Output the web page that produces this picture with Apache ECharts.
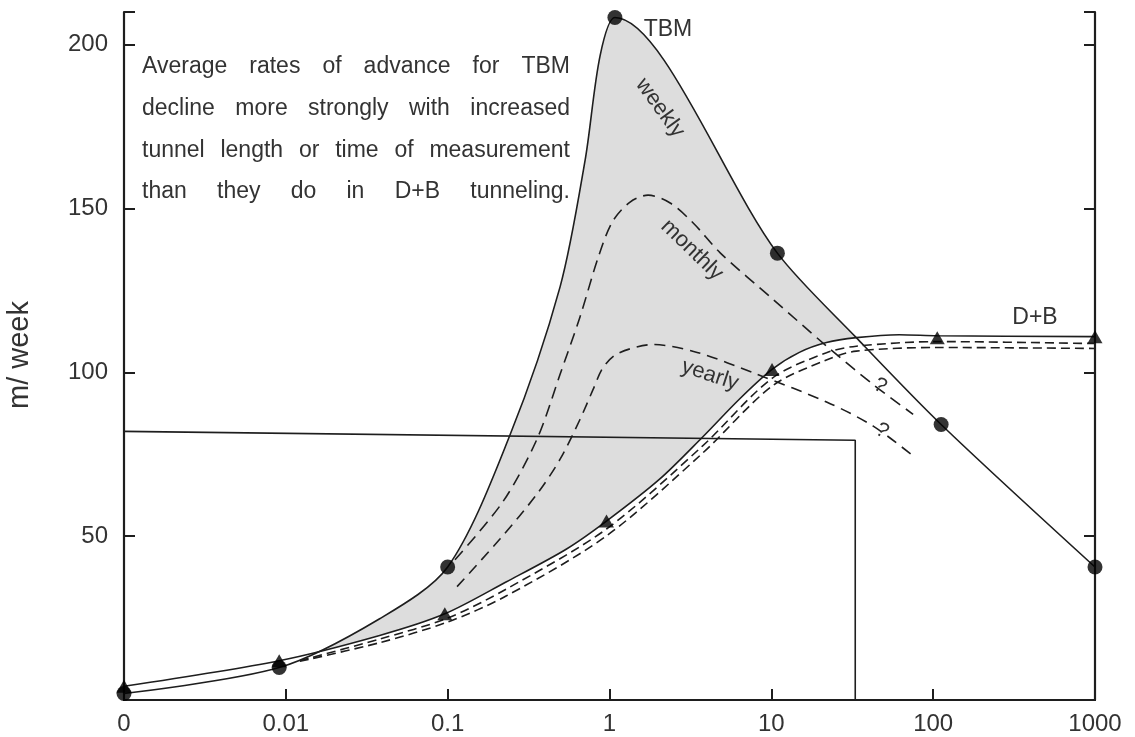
<!DOCTYPE html>
<html>
<head>
<meta charset="utf-8">
<script src="https://cdn.jsdelivr.net/npm/echarts@6.0.0/dist/echarts.min.js"></script>
<style>
html, body { margin: 0; padding: 0; background: #fff; }
#chart1 { width: 1135px; height: 737px; }
</style>
</head>
<body>
<div id="chart1"></div>
<script>
// axis ticks (x is log: "0" stands for the 0.001 decade)
var xTickValues = [0.001, 0.01, 0.1, 1, 10, 100, 1000];
var xTickLabels = ['0', '0.01', '0.1', '1', '10', '100', '1000'];
var yTickValues = [50, 100, 150, 200];

// TBM weekly (solid)
var tbmWeeklyX = [0.001, 0.0091, 0.038, 0.1, 0.241, 0.495, 0.707, 0.875, 1.08, 10.9, 33.5, 112, 1000];
var tbmWeeklyY = [2, 9.9, 24.8, 40.6, 80.5, 126.1, 164.8, 196.7, 208.3, 136.4, 110.6, 84.1, 40.6];
// TBM monthly (dashed)
var tbmMonthlyX = [0.111, 0.22, 0.357, 0.495, 0.658, 0.849, 1.04, 1.34, 1.73, 2.37, 3.29, 4.83, 10.3, 22.1, 42.6, 75.2];
var tbmMonthlyY = [42.8, 60.6, 79.7, 99.4, 117.0, 134.9, 145.9, 152.0, 154.1, 151.7, 145.6, 136.5, 122.2, 107.9, 96.3, 87.2];
// TBM yearly (dashed)
var tbmYearlyX = [0.1143, 0.211, 0.357, 0.495, 0.658, 0.792, 0.913, 1.13, 1.86, 3.48, 8.17, 22.1, 42.6, 75.2];
var tbmYearlyY = [34.6, 49.2, 62.9, 73.5, 85.7, 94.8, 101.5, 105.8, 108.5, 106.1, 99.4, 90.9, 83.6, 74.5];
// TBM measured points
var tbmPointX = [0.001, 0.0091, 0.1, 1.08, 10.9, 112, 1000];
var tbmPointY = [2, 9.9, 40.6, 208.3, 136.4, 84.1, 40.6];

// D+B weekly (solid)
var dbWeeklyX = [0.001, 0.0091, 0.038, 0.096, 0.231, 0.543, 0.958, 2.04, 3.75, 6.34, 10.1, 14.9, 21.9, 33.5, 61.7, 106, 1000];
var dbWeeklyY = [4.2, 12.0, 19.7, 26.3, 36.1, 46.1, 54.6, 67.4, 80.2, 91.8, 100.9, 106.1, 109.1, 110.6, 111.5, 111.2, 110.9];
// D+B monthly / yearly (dashed)
var dbMonthlyX = [0.0122, 0.038, 0.1, 0.231, 0.958, 3.75, 10.1, 21.9, 33.5, 106, 1000];
var dbMonthlyY = [12, 18.6, 25, 33.9, 52.2, 77.5, 98.2, 106, 108, 109.4, 108.8];
var dbYearlyX = [0.0122, 0.038, 0.1, 0.231, 0.958, 3.75, 10.1, 21.9, 33.5, 106, 1000];
var dbYearlyY = [11.8, 17.5, 23.8, 31.8, 50.1, 75.3, 95.8, 103.8, 106.5, 107.6, 107.3];
// D+B measured points
var dbPointX = [0.001, 0.0091, 0.096, 0.958, 10.1, 106, 1000];
var dbPointY = [4.2, 12.0, 26.3, 54.6, 100.9, 110.6, 110.9];

// marker lines (horizontal then down to the axis)
var guideX = [0.001, 33, 33];
var guideY = [82, 79.3, 0];

var noteLines = [
    'Average rates of advance for TBM',
    'decline more strongly with increased',
    'tunnel length or time of measurement',
    'than they do in D+B tunneling.'
];

function zip(xs, ys) {
    return xs.map(function (x, i) { return [x, ys[i]]; });
}

var FONT = '"Liberation Sans", Arial, Helvetica, sans-serif';
var INK = '#1e1e1e';
var SMOOTH = 0.3;

var chartDom = document.getElementById('chart1');
var myChart = echarts.init(chartDom);
var option;

// justified note text, one text element per word
var graphics = [];
var ctx = document.createElement('canvas').getContext('2d');
var noteSize = 23;
ctx.font = noteSize + 'px ' + FONT;
var noteLeft = 142, noteRight = 570, noteTop = 67, noteStep = 41.7;
noteLines.forEach(function (line, i) {
    var words = line.split(' ');
    var widths = words.map(function (w) { return ctx.measureText(w).width; });
    var total = widths.reduce(function (a, b) { return a + b; }, 0);
    var gap = (noteRight - noteLeft - total) / (words.length - 1);
    var x = noteLeft;
    words.forEach(function (w, j) {
        graphics.push({
            type: 'text', x: x, y: noteTop + i * noteStep, z: 20,
            style: { text: w, fontSize: noteSize, fontFamily: FONT, fill: '#333',
                     textAlign: 'left', textVerticalAlign: 'middle' }
        });
        x += widths[j] + gap;
    });
});

function label(text, x, y, deg, size) {
    graphics.push({
        type: 'text', x: x, y: y, rotation: deg * Math.PI / 180, z: 20,
        style: { text: text, fontSize: size, fontFamily: FONT, fill: '#333',
                 textAlign: 'center', textVerticalAlign: 'middle' }
    });
}
label('TBM', 668, 30, 0, 23);
label('weekly', 660, 108, -54, 22);
label('monthly', 692, 250, -44, 22);
label('yearly', 710, 375, -18, 22);
label('D+B', 1035, 318, 0, 23);
label('?', 880, 386, -30, 21);
label('?', 882, 431, -30, 21);
label('m/ week', 20, 355, 90, 29);

function lineSeries(name, xs, ys, dash, smooth) {
    return {
        name: name, type: 'line', data: zip(xs, ys), smooth: smooth,
        symbol: 'none', z: 4, silent: true,
        lineStyle: { color: INK, width: 1.6, type: dash || 'solid' }
    };
}

option = {
    animation: false,
    backgroundColor: '#fff',
    grid: { left: 124, right: 40, top: 12, bottom: 37 },
    xAxis: [
        {
            type: 'log', logBase: 10, min: 0.001, max: 1000, position: 'bottom', z: 3,
            axisLine: { lineStyle: { color: INK, width: 2.2 } },
            axisTick: { inside: true, length: 11, lineStyle: { color: INK, width: 2 } },
            axisLabel: {
                fontSize: 24, fontFamily: FONT, color: '#333', margin: 12,
                formatter: function (v) {
                    for (var i = 0; i < xTickValues.length; i++) {
                        if (Math.abs(Math.log10(v) - Math.log10(xTickValues[i])) < 1e-6) return xTickLabels[i];
                    }
                    return '';
                }
            },
            splitLine: { show: false }
        },
        {
            type: 'log', logBase: 10, min: 0.001, max: 1000, position: 'top', z: 3,
            axisLine: { lineStyle: { color: INK, width: 2.2 } },
            axisTick: { show: false }, axisLabel: { show: false }, splitLine: { show: false }
        }
    ],
    yAxis: [
        {
            type: 'value', min: 0, max: 210, interval: 50, position: 'left', z: 3,
            axisLine: { show: true, lineStyle: { color: INK, width: 2.2 } },
            axisTick: { show: true, inside: true, length: 11, lineStyle: { color: INK, width: 2 } },
            axisLabel: {
                fontSize: 24, fontFamily: FONT, color: '#333', margin: 16,
                formatter: function (v) { return yTickValues.indexOf(v) >= 0 ? String(v) : ''; }
            },
            splitLine: { show: false }
        },
        {
            type: 'value', min: 0, max: 210, interval: 50, position: 'right', z: 3,
            axisLine: { show: true, lineStyle: { color: INK, width: 2.2 } },
            axisTick: { show: true, inside: true, length: 11, lineStyle: { color: INK, width: 2 } },
            axisLabel: { show: false }, splitLine: { show: false }
        }
    ],
    graphic: graphics,
    series: [
        // gray band: fill under TBM, then white under D+B
        {
            type: 'line', data: zip(tbmWeeklyX, tbmWeeklyY), smooth: SMOOTH, symbol: 'none', z: 1, silent: true,
            lineStyle: { width: 0 }, areaStyle: { color: '#dddddd', opacity: 1 }
        },
        {
            type: 'line', data: zip(dbWeeklyX, dbWeeklyY), smooth: SMOOTH, symbol: 'none', z: 2, silent: true,
            lineStyle: { width: 0 }, areaStyle: { color: '#ffffff', opacity: 1 }
        },
        lineSeries('guide', guideX, guideY, 'solid', false),
        lineSeries('TBM weekly', tbmWeeklyX, tbmWeeklyY, 'solid', SMOOTH),
        lineSeries('TBM monthly', tbmMonthlyX, tbmMonthlyY, [12, 7], SMOOTH),
        lineSeries('TBM yearly', tbmYearlyX, tbmYearlyY, [11, 7], SMOOTH),
        lineSeries('D+B weekly', dbWeeklyX, dbWeeklyY, 'solid', SMOOTH),
        lineSeries('D+B monthly', dbMonthlyX, dbMonthlyY, [9, 5], SMOOTH),
        lineSeries('D+B yearly', dbYearlyX, dbYearlyY, [9, 5], SMOOTH),
        {
            type: 'scatter', data: zip(tbmPointX, tbmPointY), symbol: 'circle', symbolSize: 15, z: 6,
            itemStyle: { color: '#000' }, silent: true, clip: false
        },
        {
            type: 'scatter', data: zip(dbPointX, dbPointY), symbol: 'triangle', symbolSize: [15, 13], z: 6,
            itemStyle: { color: '#000' }, silent: true, clip: false
        }
    ]
};

option && myChart.setOption(option);
</script>
</body>
</html>
